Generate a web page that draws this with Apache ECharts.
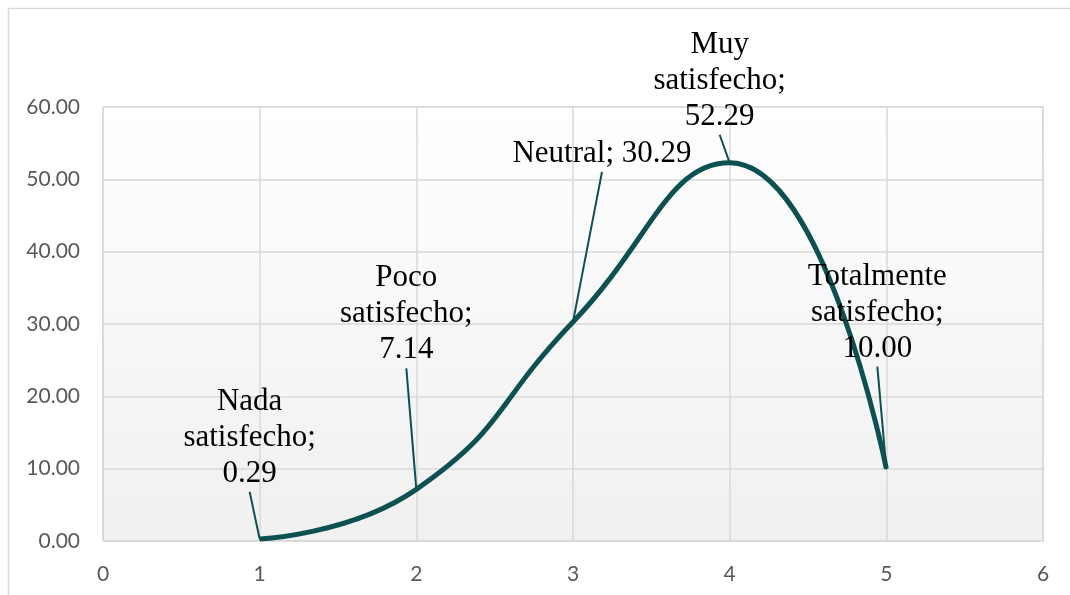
<!DOCTYPE html>
<html>
<head>
<meta charset="utf-8">
<script src="https://cdn.jsdelivr.net/npm/echarts@6/dist/echarts.min.js"></script>
<style>
  html, body { margin: 0; padding: 0; background: #ffffff; }
  #chart { width: 1070px; height: 595px; }
</style>
</head>
<body>
<div id="chart"></div>
<script>
// Satisfaction levels, their position on the x scale and their percentages
const categories = ['Nada satisfecho', 'Poco satisfecho', 'Neutral', 'Muy satisfecho', 'Totalmente satisfecho'];
const xPositions = [1, 2, 3, 4, 5];
const percentages = [0.29, 7.14, 30.29, 52.29, 10.00];
const xTicks = [0, 1, 2, 3, 4, 5, 6];
const yTicks = [0, 10, 20, 30, 40, 50, 60];

// Label placement (pixels, relative to the data point): block centre and leader-line end
const labelOffsets = [[-10, -101], [-10, -175], [29, -168], [-10, -82], [-9, -156]];
const leaderEnds = [[-11, -42], [-9, -115], [30, -147], [-10, -26], [-10, -97]];

const lineColor = '#0b5151';
const gridColor = '#d9d9d9';

const seriesData = xPositions.map((x, i) => ({ value: [x, percentages[i]], name: categories[i] }));

// Two-word names wrap onto their own lines, the value goes on a third line
function labelText(p) {
  const words = p.name.split(' ');
  const val = p.value[1].toFixed(2);
  return words.length > 1 ? words.join('\n') + ';\n' + val : p.name + '; ' + val;
}

const chart = echarts.init(document.getElementById('chart'), null, { renderer: 'canvas' });

chart.setOption({
  backgroundColor: '#ffffff',
  animation: false,
  graphic: [{
    type: 'rect',
    shape: { x: 8.5, y: 8.5, width: 1100, height: 620 },
    style: { fill: 'none', stroke: gridColor, lineWidth: 1.5 },
    silent: true,
    z: -1
  }],
  grid: {
    left: 103, right: 27, top: 107, bottom: 54,
    show: true,
    borderColor: gridColor,
    borderWidth: 1.5,
    backgroundColor: new echarts.graphic.LinearGradient(0, 0, 0, 1, [
      { offset: 0, color: '#ffffff' },
      { offset: 1, color: '#f0f0f0' }
    ])
  },
  xAxis: {
    type: 'value',
    min: xTicks[0],
    max: xTicks[xTicks.length - 1],
    interval: 1,
    axisLine: { show: false },
    axisTick: { show: false },
    splitLine: { show: true, lineStyle: { color: gridColor, width: 1.5 } },
    axisLabel: {
      color: '#595959',
      fontFamily: 'Lato',
      fontSize: 21,
      margin: 23
    }
  },
  yAxis: {
    type: 'value',
    min: yTicks[0],
    max: yTicks[yTicks.length - 1],
    interval: 10,
    axisLine: { show: false },
    axisTick: { show: false },
    splitLine: { show: true, lineStyle: { color: gridColor, width: 1.5 } },
    axisLabel: {
      color: '#595959',
      fontFamily: 'Lato',
      fontSize: 21,
      margin: 23,
      formatter: v => v.toFixed(2)
    }
  },
  series: [{
    type: 'line',
    data: seriesData,
    smooth: 0.5,
    symbol: 'circle',
    symbolSize: 2,
    showSymbol: true,
    itemStyle: { color: lineColor },
    lineStyle: { color: lineColor, width: 5 },
    label: {
      show: true,
      position: 'top',
      distance: 0,
      color: '#000000',
      fontFamily: 'Liberation Serif, Times New Roman, serif',
      fontSize: 31,
      lineHeight: 36,
      align: 'center',
      formatter: labelText
    },
    labelLine: {
      show: true,
      lineStyle: { color: lineColor, width: 2 }
    },
    labelLayout: function (params) {
      const i = params.dataIndex;
      const cx = params.rect.x + params.rect.width / 2;
      const cy = params.rect.y + params.rect.height / 2;
      const lx = cx + leaderEnds[i][0];
      const ly = cy + leaderEnds[i][1];
      return {
        x: cx + labelOffsets[i][0],
        y: cy + labelOffsets[i][1],
        align: 'center',
        verticalAlign: 'middle',
        labelLinePoints: [[cx, cy], [lx, ly], [lx, ly]]
      };
    }
  }]
});
</script>
</body>
</html>
